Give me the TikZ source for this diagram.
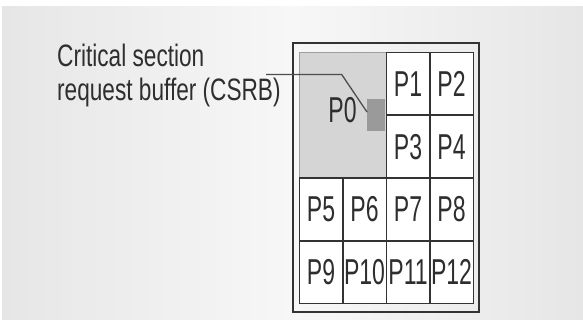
\documentclass[tikz,border=0pt]{standalone}
\usepackage{fontspec}
\usetikzlibrary{calc}
\newfontfamily\labelfont[FakeStretch=0.73]{Liberation Sans}
\newfontfamily\cellfont[FakeStretch=0.64]{Liberation Sans}
\definecolor{ink}{HTML}{2E2E2E}
\definecolor{gridline}{HTML}{333333}
\definecolor{pzero}{HTML}{D5D5D5}
\definecolor{csrbfill}{HTML}{9A9A9A}
\definecolor{bgedge}{HTML}{E6E6E6}
\definecolor{bgmid}{HTML}{F7F7F7}
\tikzset{
  cell/.style={draw=gridline, line width=1.6pt, fill=white, minimum width=43.5pt, minimum height=62.75pt, inner sep=0pt, text=ink, font=\cellfont\fontsize{36}{36}\selectfont},
  bigcell/.style={draw=gray!75, line width=1.6pt, fill=pzero, minimum width=87pt, minimum height=125.5pt, inner sep=0pt},
  leader/.style={draw=ink!85, line width=1.3pt},
  frame/.style={draw=gridline, line width=1.8pt},
}
\begin{document}
\begin{tikzpicture}[x=1pt,y=-1pt]
\useasboundingbox (0,0) rectangle (583,320);
\fill[white] (0,0) rectangle (583,320);
\shade[left color=bgedge, right color=bgedge, middle color=bgmid] (2,7) rectangle (583,320);
% outer frame
\draw[frame] (293.3,43.3) rectangle (478.7,312);
% P0 region
\node[bigcell, anchor=north west] (p0box) at (298.5,51.7) {};
\node[text=ink, font=\cellfont\fontsize{36}{36}\selectfont, inner sep=0pt] (p0) at (342.5,110) {P0};
% cells
\node[cell, anchor=north west] (p1) at (385.5,51.7) {P1};
\node[cell, anchor=north west] (p2) at (429,51.7) {P2};
\node[cell, anchor=north west] (p3) at (385.5,114.45) {P3};
\node[cell, anchor=north west] (p4) at (429,114.45) {P4};
\node[cell, anchor=north west] (p5) at (298.5,177.2) {P5};
\node[cell, anchor=north west] (p6) at (342,177.2) {P6};
\node[cell, anchor=north west] (p7) at (385.5,177.2) {P7};
\node[cell, anchor=north west] (p8) at (429,177.2) {P8};
\node[cell, anchor=north west] (p9) at (298.5,239.95) {P9};
\node[cell, anchor=north west] (p10) at (342,239.95) {P10};
\node[cell, anchor=north west] (p11) at (385.5,239.95) {P11};
\node[cell, anchor=north west] (p12) at (429,239.95) {P12};
% CSRB square
\node[fill=csrbfill, minimum width=17.3pt, minimum height=31.4pt, inner sep=0pt, anchor=north east] (csrb) at (384.7,99.3) {};
% label
\node[anchor=north west, inner sep=0pt, align=left, text=ink, font=\labelfont\fontsize{31}{34}\selectfont] (lbl) at (57,43.4) {Critical section\\request buffer (CSRB)};
\coordinate (lstart) at (266,74.5);
\coordinate (bend) at (341.7,74.5);
\draw[leader] (lstart) -- (bend) -- ($(csrb.north west)!0.4!(csrb.south west)$);
\end{tikzpicture}
\end{document}
